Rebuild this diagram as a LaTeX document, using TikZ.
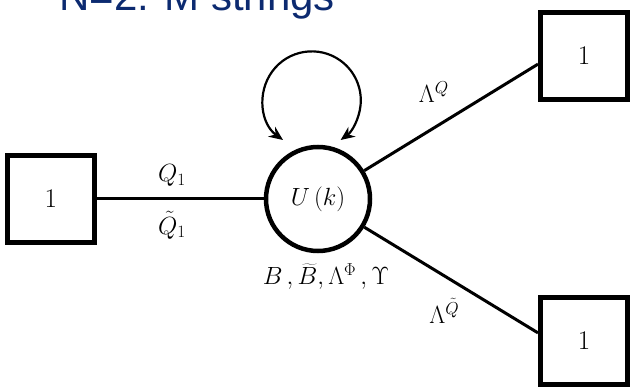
\documentclass[tikz,border=0pt]{standalone}
\usepackage{fontspec}
\usepackage{tikz}
\usetikzlibrary{arrows.meta, positioning}
\usepackage{xcolor}
\newfontfamily\titlefont{Liberation Sans}
\definecolor{titleblue}{RGB}{12,42,112}

\begin{document}
\begin{tikzpicture}[x=1pt,y=1pt,font=\fontsize{25}{30}\selectfont,
    flav/.style={draw,line width=5pt,minimum size=87pt,inner sep=0pt,font=\fontsize{27}{32}\selectfont},
    gauge/.style={draw,circle,line width=4.5pt,minimum size=104pt,inner sep=0pt},
    link/.style={line width=3pt},
    lbl/.style={inner sep=1pt},
    selfarr/.style={{Stealth[length=14pt,width=12pt]}-{Stealth[length=14pt,width=12pt]},line width=2.2pt}]
  \useasboundingbox (0,0) rectangle (631,-387);
  \node[anchor=base west,inner sep=0pt,text=titleblue,font=\titlefont\fontsize{42}{50}\selectfont](title) at (59,-11){N=2: M strings};
  \node[gauge](u) at (318,-199){$U\,(k)$};
  \node[flav,left=167pt of u](f1){1};
  \node[flav](f2) at (584,-56){1};
  \node[flav](f3) at (584,-341){1};
  \node[lbl,below=9pt of u,xshift=8pt,font=\fontsize{23}{28}\selectfont](ops){$B\,,\widetilde{B},\Lambda^{\Phi}\,,\Upsilon$};
  \coordinate (lt) at (283,-140);
  \draw[link](f1)--node[lbl,above=10pt,pos=0.45]{$Q_1$}node[lbl,below=10pt,pos=0.45]{$\tilde{Q}_1$}(u);
  \draw[link](u)--node[lbl,above=23pt,pos=0.4]{$\Lambda^{Q}$}(f2.190);
  \draw[link](u)--node[lbl,below=20pt,pos=0.46]{$\Lambda^{\tilde{Q}}$}(f3.170);
  \draw[selfarr](lt) arc[start angle=234,end angle=-54,radius=49];
\end{tikzpicture}
\end{document}
